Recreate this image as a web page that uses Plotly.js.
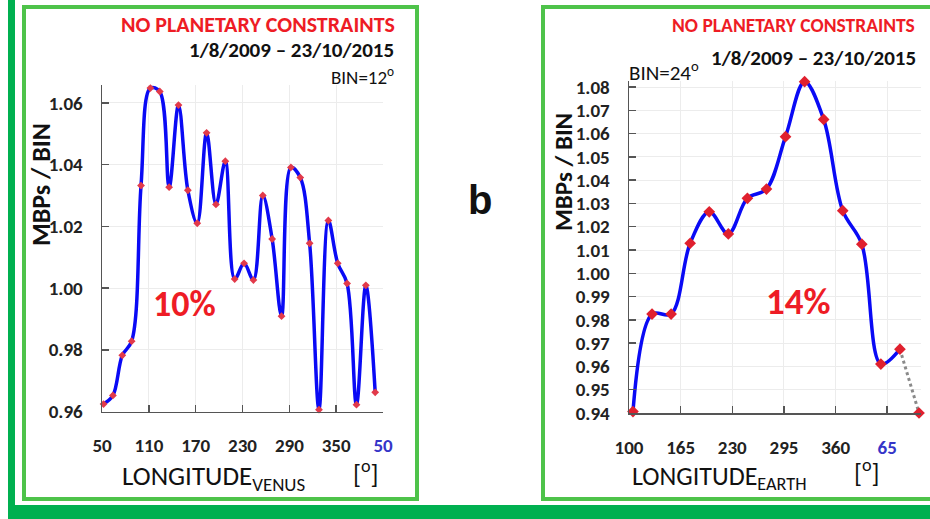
<!DOCTYPE html>
<html>
<head>
<meta charset="utf-8">
<script src="https://cdn.plot.ly/plotly-3.0.1.min.js"></script>
<style>html,body{margin:0;padding:0;background:#fff;}#chart{width:930px;height:519px;}</style>
</head>
<body>
<div id="chart"></div>
<script>
// ---- Data: panel a (Venus, BIN = 12 deg) ----
const venusLon = [52, 64, 76, 88, 100, 112, 124, 136, 148, 160, 172, 184, 196, 208, 220,
                  232, 244, 256, 268, 280, 292, 304, 316, 328, 340, 352, 364, 376, 388, 400];
const venusMBP = [0.9624, 0.9652, 0.9782, 0.9828, 1.0332, 1.0648, 1.0637, 1.0327, 1.0593, 1.0317,
                  1.0210, 1.0503, 1.0271, 1.0411, 1.0029, 1.0080, 1.0026, 1.0300, 1.0159, 0.9909,
                  1.0391, 1.0358, 1.0145, 0.9606, 1.0219, 1.0080, 1.0015, 0.9622, 1.0009, 0.9662];
const venusTickVals = [50, 110, 170, 230, 290, 350, 410];
const venusTickText = ['50', '110', '170', '230', '290', '350', '50'];

// ---- Data: panel b (Earth, BIN = 24 deg) ----
const earthLon = [105, 129, 153, 177, 201, 225, 249, 273, 297, 321, 345, 369, 393, 417, 441, 465];
const earthMBP = [0.9406, 0.9825, 0.9825, 1.0129, 1.0264, 1.0169, 1.0322, 1.0362,
                  1.0587, 1.0823, 1.0661, 1.0269, 1.0125, 0.9610, 0.9674, 0.9400];
const earthTickVals = [100, 165, 230, 295, 360, 425];
const earthTickText = ['100', '165', '230', '295', '360', '65'];

const W = 930, H = 519;
const PX = x => x / W;
const PY = y => 1 - y / H;
const F = "Carlito, 'Liberation Sans Narrow', 'Arial Narrow', 'Open Sans', sans-serif";
const BLUE_TICK = '#3535c8';
const colorLast = arr => arr.map((t, i) => i === arr.length - 1 ? '<span style="color:' + BLUE_TICK + '">' + t + '</span>' : t);

const n = earthLon.length;
const traces = [
  { x: venusLon, y: venusMBP, xaxis: 'x', yaxis: 'y', type: 'scatter', mode: 'lines+markers',
    line: { color: '#0a0af5', width: 3.5, shape: 'spline', smoothing: 1 },
    marker: { symbol: 'diamond', size: 6, color: '#e23a4a' }, cliponaxis: false, hoverinfo: 'skip' },
  { x: earthLon.slice(n - 2), y: earthMBP.slice(n - 2), xaxis: 'x2', yaxis: 'y2', type: 'scatter', mode: 'lines',
    line: { color: '#8a8a8a', width: 3, dash: 'dot' }, hoverinfo: 'skip' },
  { x: earthLon.slice(0, n - 1), y: earthMBP.slice(0, n - 1), xaxis: 'x2', yaxis: 'y2', type: 'scatter', mode: 'lines',
    line: { color: '#0a0af5', width: 3.5, shape: 'spline', smoothing: 1 }, hoverinfo: 'skip' },
  { x: earthLon, y: earthMBP, xaxis: 'x2', yaxis: 'y2', type: 'scatter', mode: 'markers',
    marker: { symbol: 'diamond', size: 9, color: '#e0202e' }, cliponaxis: false, hoverinfo: 'skip' }
];

const axCommon = {
  showline: true, linecolor: '#555', linewidth: 1.5, ticks: 'inside', ticklen: 7, tickcolor: '#555', tickwidth: 1.5,
  showgrid: true, gridcolor: '#ececec', gridwidth: 1, zeroline: false,
  tickfont: { family: F, size: 19, color: '#222', weight: 'bold' }
};

const ann = (x, y, text, opts) => Object.assign({
  xref: 'paper', yref: 'paper', x: PX(x), y: PY(y), text: text, showarrow: false,
  xanchor: 'center', yanchor: 'middle', font: { family: F, size: 16, color: '#111' }
}, opts || {});

const layout = {
  width: W, height: H, margin: { l: 0, r: 0, t: 0, b: 0 },
  paper_bgcolor: '#fff', plot_bgcolor: '#fff', showlegend: false,
  xaxis: Object.assign({}, axCommon, { domain: [PX(102), PX(383)], range: [50, 410], anchor: 'y',
    tickvals: venusTickVals, ticktext: colorLast(venusTickText), ticklabelstandoff: 16 }),
  yaxis: Object.assign({}, axCommon, { domain: [PY(411.5), PY(85)], range: [0.96, 1.0658], anchor: 'x',
    dtick: 0.02, tick0: 0.96, tickformat: '.2f', ticklabelstandoff: 14 }),
  xaxis2: Object.assign({}, axCommon, { domain: [PX(629), PX(921)], range: [100, 467.5], anchor: 'y2',
    tickvals: earthTickVals, ticktext: colorLast(earthTickText), ticklabelstandoff: 17 }),
  yaxis2: Object.assign({}, axCommon, { domain: [PY(413), PY(81)], range: [0.94, 1.0826], anchor: 'x2',
    dtick: 0.01, tick0: 0.94, tickformat: '.2f', ticklabelstandoff: 14 }),
  shapes: [
    { type: 'rect', xref: 'paper', yref: 'paper', x0: PX(8), x1: PX(15), y0: PY(0), y1: PY(519), fillcolor: '#00b050', line: { width: 0 }, layer: 'below' },
    { type: 'rect', xref: 'paper', yref: 'paper', x0: PX(8), x1: PX(940), y0: PY(505), y1: PY(525), fillcolor: '#00b050', line: { width: 0 }, layer: 'below' },
    { type: 'rect', xref: 'paper', yref: 'paper', x0: PX(24), x1: PX(417), y0: PY(499), y1: PY(7), fillcolor: 'rgba(0,0,0,0)', line: { color: '#4ec34a', width: 4 }, layer: 'below' },
    { type: 'rect', xref: 'paper', yref: 'paper', x0: PX(543), x1: PX(945), y0: PY(499), y1: PY(7), fillcolor: 'rgba(0,0,0,0)', line: { color: '#4ec34a', width: 4 }, layer: 'below' }
  ],
  annotations: [
    // panel a
    ann(397, 25, '<b>NO PLANETARY CONSTRAINTS</b>', { xanchor: 'right', font: { family: F, size: 22, color: '#ee1c25' } }),
    ann(396, 50, '<b>1/8/2009 – 23/10/2015</b>', { xanchor: 'right', font: { family: F, size: 21, color: '#111' } }),
    ann(396, 76, 'BIN=12<sup>o</sup>', { xanchor: 'right', font: { family: F, size: 19, color: '#111' } }),
    ann(41, 185, '<b>MBPs / BIN</b>', { textangle: -90, font: { family: F, size: 26, color: '#111' } }),
    ann(120, 477, 'LONGITUDE<sub>VENUS</sub>', { xanchor: 'left', font: { family: F, size: 27, color: '#111' } }),
    ann(366, 472, '[<sup>o</sup>]', { font: { family: F, size: 26, color: '#111' } }),
    ann(184, 304, '<b>10%</b>', { font: { family: F, size: 36, color: '#ee1c25' } }),
    // centre label
    ann(480, 200, '<b>b</b>', { font: { family: "'Liberation Sans', Arial, sans-serif", size: 40, color: '#111' } }),
    // panel b
    ann(917, 25, '<b>NO PLANETARY CONSTRAINTS</b>', { xanchor: 'right', font: { family: F, size: 19.5, color: '#ee1c25' } }),
    ann(918, 58, '<b>1/8/2009 – 23/10/2015</b>', { xanchor: 'right', font: { family: F, size: 21, color: '#111' } }),
    ann(627, 71, 'BIN=24<sup>o</sup>', { xanchor: 'left', font: { family: F, size: 21, color: '#111' } }),
    ann(563, 172, '<b>MBPs / BIN</b>', { textangle: -90, font: { family: F, size: 25, color: '#111' } }),
    ann(630, 477, 'LONGITUDE<sub>EARTH</sub>', { xanchor: 'left', font: { family: F, size: 26, color: '#111' } }),
    ann(867, 471, '[<sup>o</sup>]', { font: { family: F, size: 26, color: '#111' } }),
    ann(798, 301, '<b>14%</b>', { font: { family: F, size: 37, color: '#ee1c25' } })
  ]
};

Plotly.newPlot('chart', traces, layout, { displayModeBar: false, staticPlot: true });
</script>
</body>
</html>
